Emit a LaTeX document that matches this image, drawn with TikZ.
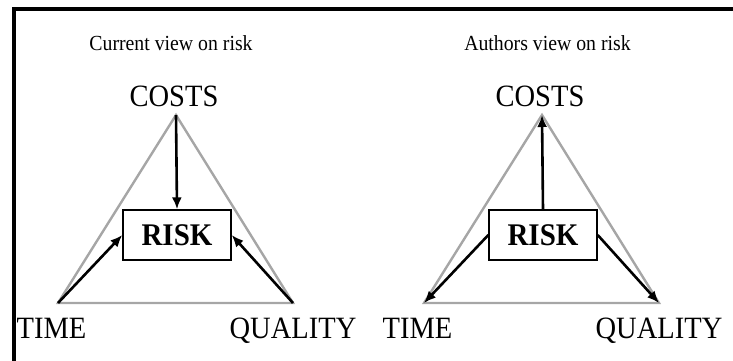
\documentclass[tikz,border=0pt]{standalone}
\usepackage{fontspec}
\setmainfont{Liberation Serif}
\newfontfamily\narrowserif[FakeStretch=0.92]{Liberation Serif}
\usetikzlibrary{arrows.meta, positioning}

\begin{document}
\begin{tikzpicture}[
  x=1pt, y=-1pt,
  word/.style={inner sep=0pt, font=\narrowserif\fontsize{31}{33}\selectfont},
  title/.style={inner sep=0pt, font=\narrowserif\fontsize{21.5}{24}\selectfont},
  riskbox/.style={draw, line width=1.4pt, minimum width=108pt, minimum height=50pt, inner sep=0pt, font=\narrowserif\fontsize{31.5}{33}\selectfont\bfseries},
  edge/.style={draw=gray!70, line width=2.4pt},
  arrow/.style={-{Latex[length=12pt,width=10pt]}, line width=2.6pt}
]
\useasboundingbox (0,0) rectangle (733,360);
\draw[line width=4pt] (14,362) -- (14,9) -- (735,9);

% left: current view
\coordinate (lapex) at (176,115);
\coordinate (lleft) at (58,303);
\coordinate (lright) at (293,303);
\node[riskbox] (lrisk) at (177,235) {RISK};
\node[word, above=8pt of lapex, xshift=-2pt] (lcosts) {COSTS};
\node[word, below=15pt of lleft, xshift=-6.5pt] (ltime) {TIME};
\node[word, below=15pt of lright] (lquality) {QUALITY};
\node[title, above=35pt of lcosts, xshift=-3pt] (ltitle) {Current view on risk};

\draw[edge] (lapex) -- (lleft) -- (lright) -- cycle;
\draw[arrow] (lapex) -- (lrisk.north);
\draw[arrow] (lleft) -- (lrisk.west);
\draw[arrow] (lright) -- (lrisk.east);

% right: authors view
\coordinate (rapex) at (542,115);
\coordinate (rleft) at (424,303);
\coordinate (rright) at (659,303);
\node[riskbox] (rrisk) at (543,235) {RISK};
\node[word, above=8pt of rapex, xshift=-2pt] (rcosts) {COSTS};
\node[word, below=15pt of rleft, xshift=-6.5pt] (rtime) {TIME};
\node[word, below=15pt of rright] (rquality) {QUALITY};
\node[title, above=35pt of rcosts, xshift=7.5pt] (rtitle) {Authors view on risk};

\draw[edge] (rapex) -- (rleft) -- (rright) -- cycle;
\draw[arrow] (rrisk.north) -- (rapex);
\draw[arrow] (rrisk.west) -- (rleft);
\draw[arrow] (rrisk.east) -- (rright);
\end{tikzpicture}
\end{document}
